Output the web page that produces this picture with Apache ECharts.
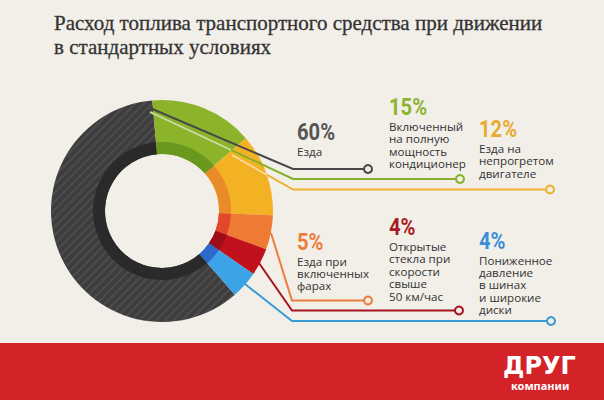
<!DOCTYPE html>
<html>
<head>
<meta charset="utf-8">
<script src="https://cdn.jsdelivr.net/npm/echarts@6/dist/echarts.min.js"></script>
<style>
html,body{margin:0;padding:0;background:#f2efe9;}
#chart{width:604px;height:400px;}
</style>
</head>
<body>
<div id="chart"></div>
<script>
// ---- data ----
const titleText = 'Расход топлива транспортного средства при движении\nв стандартных условиях';
const categories = [
  'Езда',
  'Включенный на полную мощность кондиционер',
  'Езда на непрогретом двигателе',
  'Езда при включенных фарах',
  'Открытые стекла при скорости свыше 50 км/час',
  'Пониженное давление в шинах и широкие диски'
];
const values = [60, 15, 12, 5, 4, 4];
const labelLines = [
  ['Езда'],
  ['Включенный', 'на полную', 'мощность', 'кондиционер'],
  ['Езда на', 'непрогретом', 'двигателе'],
  ['Езда при', 'включенных', 'фарах'],
  ['Открытые', 'стекла при', 'скорости', 'свыше', '50 км/час'],
  ['Пониженное', 'давление', 'в шинах', 'и широкие', 'диски']
];
const logoMain = 'ДРУГ';
const logoSub = 'компании';

// ---- styles / layout ----
const bg = '#f2efe9';
const outerColors = ['#3d3d3d', '#8bb42b', '#f2b224', '#ef7a33', '#c0111d', '#3ca3e6'];
const innerColors = ['#2a2a2a', '#6a981d', '#e98c27', '#e2472b', '#9c0d17', '#2b6acb'];
const lineColors  = ['#474747', '#86b02a', '#efb12d', '#ec7d3a', '#a8141d', '#3a9ad8'];
const pctColors   = ['#555555', '#8db32f', '#e8aa30', '#ee7d3a', '#a81c24', '#3d8fd8'];
const labelPos = [[297, 131.5], [389, 106.5], [479, 128.5], [297, 241], [389, 226.5], [479, 240]];
const leaderPts = [
  [[150, 108], [293, 169], [364, 169]],
  [[150, 112], [293, 179], [456, 179]],
  [[232, 155], [293, 189.5], [546, 189.5]],
  [[271, 233], [292, 300.5], [364, 300.5]],
  [[259, 263], [292, 310.5], [455, 310.5]],
  [[245, 284], [292, 321], [547, 321]]
];
const circlePts = [[368, 169], [460, 179], [550, 189.5], [368, 300.5], [459, 310.5], [551, 321]];
const highlightPts = [
  [[150, 112], [231, 150]],
  [[232, 155], [267, 175]]
];

const data = categories.map((c, i) => ({ name: c, value: values[i] }));

const graphics = [];
graphics.push({
  type: 'rect', shape: { x: 0, y: 343, width: 604, height: 57 },
  style: { fill: '#d42229' }, z: 1
});
categories.forEach((c, i) => {
  graphics.push({
    type: 'polyline', shape: { points: leaderPts[i] },
    style: { stroke: lineColors[i], lineWidth: 2, fill: null }, z: 10
  });
  graphics.push({
    type: 'circle', shape: { cx: circlePts[i][0], cy: circlePts[i][1], r: 4 },
    style: { stroke: lineColors[i], lineWidth: 2, fill: bg }, z: 11
  });
  graphics.push({
    type: 'text', x: labelPos[i][0], y: labelPos[i][1], z: 12, scaleX: 0.84,
    style: {
      text: values[i] + '%', fill: pctColors[i],
      font: 'bold 24px Roboto, sans-serif',
      align: 'left', verticalAlign: 'middle'
    }
  });
  graphics.push({
    type: 'text', x: labelPos[i][0], y: labelPos[i][1] + 20 - 6.2, z: 12,
    style: {
      text: labelLines[i].join('\n'), fill: '#333',
      font: '11.6px "Open Sans", sans-serif', lineHeight: 12.4,
      align: 'left', verticalAlign: 'top'
    }
  });
});
highlightPts.forEach(p => {
  graphics.push({
    type: 'polyline', shape: { points: p },
    style: { stroke: 'rgba(255,255,255,0.6)', lineWidth: 1.5, fill: null }, z: 10
  });
});
graphics.push({
  type: 'text', x: 503, y: 365.5, z: 12,
  style: { text: logoMain, fill: '#fff', font: '900 24px "DejaVu Sans", sans-serif', verticalAlign: 'middle' }
});
graphics.push({
  type: 'text', x: 511, y: 385.5, z: 12,
  style: { text: logoSub, fill: '#fff', font: 'bold 11px "Noto Sans", sans-serif', verticalAlign: 'middle' }
});

const chart = echarts.init(document.getElementById('chart'), null, { renderer: 'svg', width: 604, height: 400 });
chart.setOption({
  backgroundColor: bg,
  animation: false,
  title: {
    text: titleText, left: 49, top: 6,
    textStyle: { fontFamily: '"Liberation Serif", serif', fontSize: 21, lineHeight: 24, fontWeight: 'normal', color: '#333', textBorderColor: '#333', textBorderWidth: 0.3 }
  },
  series: [
    {
      type: 'pie', center: [162, 211], radius: [57, 111], startAngle: -49,
      silent: true, label: { show: false }, labelLine: { show: false }, z: 2,
      data: data.map((d, i) => {
        const itemStyle = { color: outerColors[i] };
        if (i === 0) {
          itemStyle.decal = { symbol: 'rect', dashArrayX: [1, 0], dashArrayY: [2, 4], rotation: -Math.PI / 4, color: 'rgba(255,255,255,0.08)' };
        }
        return { ...d, itemStyle };
      })
    },
    {
      type: 'pie', center: [162, 211], radius: [57, 69], startAngle: -49,
      silent: true, label: { show: false }, labelLine: { show: false }, z: 3,
      data: data.map((d, i) => ({ ...d, itemStyle: { color: innerColors[i] } }))
    }
  ],
  graphic: graphics
});
</script>
</body>
</html>
